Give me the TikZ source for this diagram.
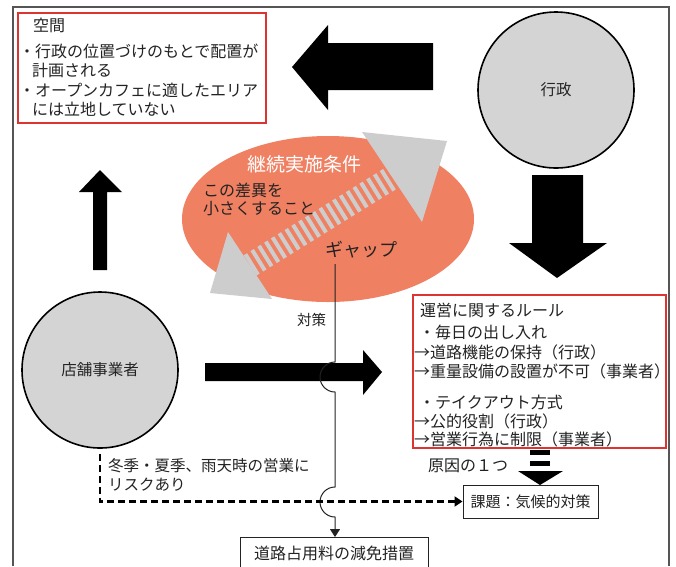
\documentclass[tikz,border=0pt]{standalone}
\usepackage{fontspec}
\setmainfont{Noto Sans CJK JP}
\usetikzlibrary{arrows.meta}
\definecolor{salmon}{RGB}{239,128,98}
\definecolor{lgray}{RGB}{205,205,205}
\definecolor{cgray}{RGB}{212,212,212}
\definecolor{redline}{RGB}{222,52,48}
\definecolor{framegray}{RGB}{85,85,85}
\definecolor{txt}{RGB}{35,35,35}
\tikzset{
  txtstyle/.style={inner sep=0pt, anchor=west, text=txt, font=\fontsize{16pt}{18pt}\selectfont},
  redbox/.style={draw=redline, line width=1.5pt},
  plainbox/.style={draw=txt, line width=1pt, fill=white, inner sep=0pt},
  actor/.style={circle, draw=black, line width=1.6pt, fill=cgray, inner sep=0pt, minimum size=156pt, text=txt, font=\fontsize{15.5pt}{18pt}\selectfont},
  blockarrow/.style={fill=black, draw=none},
  grayhead/.style={fill=lgray, draw=none},
}
\begin{document}
\begin{tikzpicture}[x=1pt,y=-1pt]
\useasboundingbox (0,0) rectangle (676,566);
\fill[white] (0,0) rectangle (676,566);
% frame
\draw[framegray, line width=1.6pt] (13,566) -- (13,7) -- (669,7) -- (669,566);

% ellipse with gray double arrow
\fill[salmon] (328,219) ellipse [x radius=146, y radius=83];
\draw[lgray, line width=24pt, dash pattern=on 4pt off 4pt] (250,265.5) -- (393,177);
\fill[grayhead] (362,132) -- (447,141) -- (422,222) -- cycle;
\fill[grayhead] (228,232) -- (210,293) -- (272,299) -- cycle;
\node[inner sep=0pt, text=white, font=\fontsize{19pt}{20pt}\selectfont] (cond) at (304,164) {継続実施条件};
\node[txtstyle] (diff1) at (203,190) {この差異を};
\node[txtstyle] (diff2) at (203,209) {小さくすること};
\node[inner sep=0pt, text=txt, font=\fontsize{18pt}{20pt}\selectfont] (gap) at (361,250) {ギャップ};
\coordinate (gapline) at (335,264);

% space box
\draw[redbox] (18,13) rectangle (266,123);
\node[txtstyle] (sp0) at (33,25) {空間};
\node[txtstyle] (sp1) at (19,51) {・行政の位置づけのもとで配置が};
\node[txtstyle] (sp2) at (32,70) {計画される};
\node[txtstyle] (sp3) at (19,90) {・オープンカフェに適したエリア};
\node[txtstyle] (sp4) at (32,109) {には立地していない};

% actors
\node[actor] (gyosei) at (556,90) {行政};
\node[actor] (tenpo) at (100,370) {店舗事業者};

% block arrows
\fill[blockarrow] (433,43) -- (328,43) -- (328,25) -- (292,67) -- (328,110) -- (328,90) -- (433,90) -- cycle;
\fill[blockarrow] (532,175) -- (583,175) -- (583,243) -- (607,243) -- (557,278) -- (509,243) -- (532,243) -- cycle;
\fill[blockarrow] (205,363) -- (363,363) -- (363,350) -- (382,372) -- (363,395) -- (363,381) -- (205,381) -- cycle;
\fill[blockarrow] (93,270) -- (93,192) -- (79,192) -- (100,170) -- (122,192) -- (107,192) -- (107,270) -- cycle;

% rules box
\draw[redbox] (413,295) rectangle (666,448);
\node[txtstyle] (r0) at (420,310) {運営に関するルール};
\node[txtstyle] (r1) at (419,332) {・毎日の出し入れ};
\node[txtstyle] (r2) at (414,352) {→道路機能の保持（行政）};
\node[txtstyle] (r3) at (414,371) {→重量設備の設置が不可（事業者）};
\node[txtstyle] (r4) at (419,402) {・テイクアウト方式};
\node[txtstyle] (r5) at (414,421) {→公的役割（行政）};
\node[txtstyle] (r6) at (414,439) {→営業行為に制限（事業者）};

% striped arrow (cause)
\fill[black] (530,450) rectangle (550,455);
\fill[black] (530,461) rectangle (550,466);
\fill[black] (518,471) -- (563,471) -- (540,485) -- cycle;
\node[txtstyle] (cause) at (428,466) {原因の１つ};

% boxes
\node[plainbox, minimum width=135pt, minimum height=33pt, font=\fontsize{15pt}{18pt}\selectfont, text=txt] (kadai) at (530.5,501.5) {課題：気候的対策};
\draw[txt, line width=1pt, fill=white] (240,580) -- (240,537) -- (428,537) -- (428,580);
\node[inner sep=0pt, text=txt, font=\fontsize{16pt}{18pt}\selectfont] (doro) at (334,553) {道路占用料の減免措置};
\coordinate (doroN) at (335,537);

% countermeasure line with hops
\node[txtstyle, font=\fontsize{14.5pt}{18pt}\selectfont] (taisaku) at (297,320) {対策};
\draw[txt, line width=1pt, -{Triangle[width=10pt,length=8pt]}]
  (gapline) -- (335,362) arc[start angle=-90, end angle=-270, radius=15]
  -- (335,487) arc[start angle=-90, end angle=-270, radius=15] -- (doroN);

% risk dashed line
\draw[black, line width=2.2pt, dash pattern=on 7pt off 4pt, -{Triangle[width=10pt,length=8pt]}]
  ([yshift=-5pt]tenpo.south) |- (kadai.west);
\node[txtstyle, font=\fontsize{15.5pt}{18pt}\selectfont] (risk1) at (108,466) {冬季・夏季、雨天時の営業に};
\node[txtstyle, font=\fontsize{15.5pt}{18pt}\selectfont] (risk2) at (108,485) {リスクあり};
\end{tikzpicture}
\end{document}
